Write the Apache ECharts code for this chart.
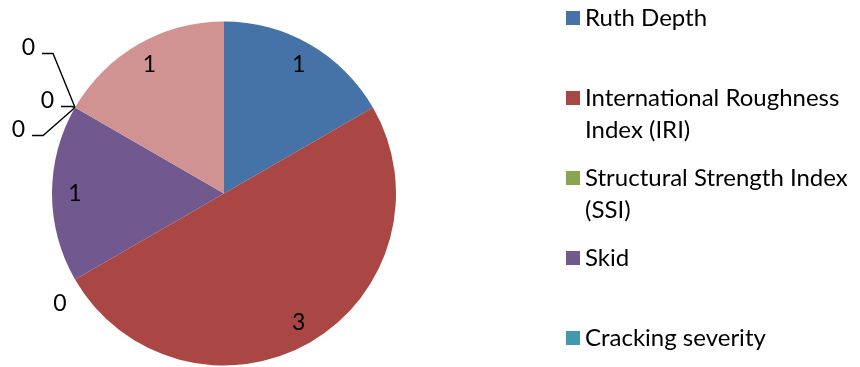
<!DOCTYPE html>
<html><head><meta charset="utf-8">
<script src="https://cdn.jsdelivr.net/npm/echarts@6/dist/echarts.min.js"></script>
<style>html,body{margin:0;padding:0;background:#fff}#c{width:860px;height:367px}</style>
</head><body><div id="c"></div>
<script>
const categories = ['Ruth Depth', 'International Roughness Index (IRI)', 'Structural Strength Index (SSI)', 'Skid', 'Cracking severity', 'Category 6', 'Category 7', 'Category 8'];
const values = [1, 3, 0, 1, 0, 0, 0, 1];
const legendLabels = ['Ruth Depth', 'International Roughness\nIndex (IRI)', 'Structural Strength Index\n(SSI)', 'Skid', 'Cracking severity'];
const colors = ['#4572A7', '#AA4643', '#89A54E', '#71588F', '#4198AF', '#DB843D', '#93A9CF', '#D19392'];

const FONT = 'Lato';
const center = [224, 193.5];
const R = 172;
// label placement offsets (relative to each slice's label anchor on the rim) for stacked zero labels
const zeroLabelOffsets = { 4: [-40, -60], 5: [-21, -7], 6: [-50, 22] };
const leaderGap = 7, leaderLen2 = 11, leaderDrop = 6;

const mainData = categories.map((name, i) => {
  const item = { name, value: values[i], itemStyle: { color: colors[i] } };
  if (values[i] !== 0) {
    item.label = { show: false };
    item.labelLine = { show: false };
  } else if (name === 'Structural Strength Index (SSI)') {
    item.label = { distanceToLabelLine: -34 };
    item.labelLine = { show: false, length: 49, length2: 0 };
  }
  return item;
});

const labelData = categories.map((name, i) => ({
  name, value: values[i], label: { show: values[i] !== 0 }
}));

const chart = echarts.init(document.getElementById('c'), null, { renderer: 'canvas' });
chart.setOption({
  backgroundColor: '#ffffff',
  animation: false,
  legend: {
    orient: 'vertical', left: 566, top: -30, height: 460, padding: 0, itemGap: -16,
    itemWidth: 14, itemHeight: 14, icon: 'rect',
    data: categories.slice(0, legendLabels.length),
    formatter: function (name) {
      const t = legendLabels[categories.indexOf(name)];
      return ' \n' + t + (t.indexOf('\n') >= 0 ? '' : '\n ');
    },
    textStyle: { fontFamily: FONT, fontSize: 24, lineHeight: 32, color: '#000' }
  },
  series: [
    {
      type: 'pie', center: center, radius: R, startAngle: 90, clockwise: true,
      avoidLabelOverlap: true, silent: true,
      itemStyle: { borderWidth: 0 },
      label: { show: true, position: 'outside', formatter: '{c}', fontFamily: FONT, fontSize: 23, color: '#000', distanceToLabelLine: 6 },
      labelLine: { show: true, length: 20, length2: 10, smooth: false, lineStyle: { color: '#000', width: 1.4 } },
      labelLayout: function (p) {
        const off = zeroLabelOffsets[p.dataIndex];
        if (!off || !p.labelLinePoints) return;
        const a = p.labelLinePoints[0];
        const right = a[0] + off[0];
        const cy = a[1] + off[1];
        const ly = cy + leaderDrop;
        return {
          x: right, y: cy, align: 'right', verticalAlign: 'middle',
          labelLinePoints: [[a[0], a[1]], [right + leaderGap + leaderLen2, ly], [right + leaderGap, ly]]
        };
      },
      emphasis: { disabled: true },
      data: mainData
    },
    {
      type: 'pie', center: center, radius: 2 * 0.85 * R, startAngle: 90, clockwise: true,
      silent: true, avoidLabelOverlap: false,
      itemStyle: { color: 'rgba(0,0,0,0)', borderWidth: 0 },
      label: { show: true, position: 'inside', formatter: '{c}', fontFamily: FONT, fontSize: 23, color: '#000', textBorderWidth: 0 },
      labelLine: { show: false },
      emphasis: { disabled: true },
      data: labelData
    }
  ]
});
</script>
</body></html>
